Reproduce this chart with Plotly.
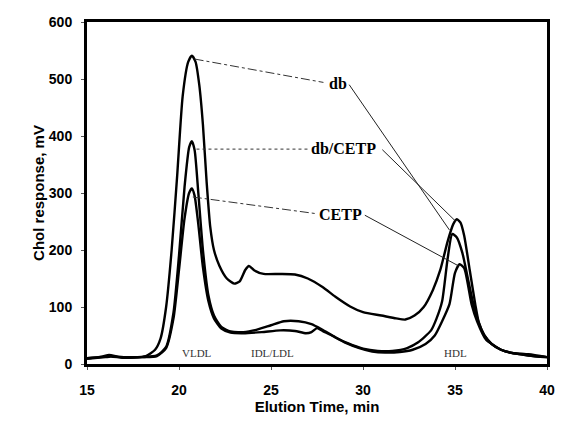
import plotly.graph_objects as go

# Elution time (min) and cholesterol response (mV) for each sample
db_t = [15.0, 15.8, 16.2, 16.7, 17.5, 18.2, 18.7, 19.0, 19.3, 19.6, 19.9, 20.2, 20.5, 20.7, 20.9, 21.1,
        21.3, 21.5, 21.7, 21.9, 22.2, 22.6, 23.0, 23.3, 23.6, 23.8, 24.1, 24.6, 25.5, 26.3, 27.0, 27.8,
        28.5, 29.3, 30.0, 31.0, 31.8, 32.3, 32.8, 33.3, 33.8, 34.2, 34.6, 34.9, 35.1, 35.3, 35.5, 35.8,
        36.1, 36.3, 36.6, 37.0, 37.5, 38.0, 39.0, 40.0]
db_v = [10, 13, 16, 13, 12, 14, 25, 45, 100, 200, 330, 470, 530, 541, 530, 490,
        420, 320, 240, 200, 172, 150, 141, 145, 165, 172, 164, 158, 158, 157, 150, 135,
        118, 101, 91, 85, 80, 78, 85, 100, 130, 165, 215, 245, 254, 248, 225, 165,
        105, 72, 50, 35, 25, 20, 17, 12]

dbcetp_t = [15.0, 16.0, 16.3, 17.0, 18.0, 18.8, 19.3, 19.7, 20.0, 20.3, 20.55, 20.7, 20.85, 21.05, 21.3,
            21.6, 21.9, 22.3, 22.8, 23.5, 24.2, 25.0, 25.7, 26.5, 27.2, 27.8, 28.5, 29.2, 30.0, 30.8,
            31.6, 32.4, 33.0, 33.7, 34.0, 34.3, 34.6, 34.85, 35.1, 35.4, 35.7, 36.0, 36.3, 36.6, 37.0,
            37.5, 38.0, 39.0, 40.0]
dbcetp_v = [10, 13, 14, 11, 12, 15, 30, 90, 190, 310, 380, 391, 375, 300, 200,
            120, 85, 65, 57, 56, 60, 68, 75, 75, 70, 60, 47, 36, 27, 23,
            23, 28, 38, 59, 80, 110, 185, 228, 222, 195, 150, 105, 72, 50, 35,
            25, 20, 15, 12]

cetp_t = [15.0, 16.0, 16.3, 17.0, 18.0, 18.8, 19.3, 19.7, 20.0, 20.3, 20.55, 20.7, 20.85, 21.05, 21.3,
          21.6, 21.9, 22.3, 22.8, 23.5, 24.5, 25.5, 26.3, 26.9, 27.2, 27.5, 27.8, 28.3, 29.0, 29.8,
          30.5, 31.2, 32.0, 32.7, 33.4, 33.9, 34.3, 34.7, 35.0, 35.25, 35.5, 35.9, 36.2, 36.7, 37.0,
          37.5, 38.0, 39.0, 40.0]
cetp_v = [9, 12, 13, 11, 12, 14, 28, 80, 165, 255, 300, 308, 295, 245, 170,
          110, 80, 62, 55, 54, 56, 59, 58, 54, 56, 63, 58, 50, 38, 28,
          22, 20, 21, 25, 35, 50, 75, 105, 160, 175, 168, 105, 75, 42, 35,
          25, 20, 15, 12]

# Callout labels: (text, label x, label y)
label_text = ["db", "db/CETP", "CETP"]
label_x = [28.65, 28.95, 28.75]
label_y = [492, 378, 262]
# Left leader lines (from VLDL peak to label) and right leader lines (label to HDL peak)
left_x0 = [20.85, 20.95, 20.75]
left_y0 = [535, 377, 293]
left_x1 = [27.85, 27.0, 27.4]
left_y1 = [494, 377, 264]
right_x0 = [29.25, 31.05, 30.1]
right_y0 = [490, 376, 261]
right_x1 = [34.7, 35.05, 35.2]
right_y1 = [235, 250, 172]
left_dash = ["dashdot", "dot", "dashdot"]

region_text = ["VLDL", "IDL/LDL", "HDL"]
region_x = [21.0, 25.1, 35.0]
region_y = [19, 19, 19]

fig = go.Figure()
for tt, vv in [(db_t, db_v), (dbcetp_t, dbcetp_v), (cetp_t, cetp_v)]:
    fig.add_trace(go.Scatter(x=tt, y=vv, mode="lines", line=dict(color="black", width=2.4, shape="spline", smoothing=0.6),
                             showlegend=False, hoverinfo="skip"))

for i in range(3):
    fig.add_trace(go.Scatter(x=[left_x0[i], left_x1[i]], y=[left_y0[i], left_y1[i]], mode="lines",
                             line=dict(color="#333", width=1, dash=left_dash[i]), showlegend=False))
    fig.add_trace(go.Scatter(x=[right_x0[i], right_x1[i]], y=[right_y0[i], right_y1[i]], mode="lines",
                             line=dict(color="#222", width=1), showlegend=False))
    fig.add_annotation(x=label_x[i], y=label_y[i], text="<b>%s</b>" % label_text[i], showarrow=False,
                       font=dict(family="Liberation Serif", size=16, color="black"))

for i in range(3):
    fig.add_annotation(x=region_x[i], y=region_y[i], text=region_text[i], showarrow=False,
                       font=dict(family="Liberation Serif", size=11, color="#333"))

axis_common = dict(showline=True, linecolor="black", linewidth=3, mirror=True, showgrid=False, zeroline=False,
                   ticks="outside", ticklen=3, tickcolor="#555", tickwidth=1,
                   tickfont=dict(family="Liberation Sans", size=14, color="black", weight="bold"))
fig.update_xaxes(range=[15, 40], dtick=5, tick0=15, ticklabelstandoff=8,
                 title=dict(text="<b>Elution Time, min</b>", font=dict(family="Liberation Sans", size=15, color="black"), standoff=5),
                 **axis_common)
fig.update_yaxes(range=[0, 600], dtick=100, ticklabelstandoff=6,
                 title=dict(text="<b>Chol response, mV</b>", font=dict(family="Liberation Sans", size=15, color="black"), standoff=1),
                 **axis_common)
fig.update_layout(width=556, height=414, margin=dict(l=79, r=17, t=6, b=58),
                  plot_bgcolor="white", paper_bgcolor="white")
fig.write_html("out.html")
